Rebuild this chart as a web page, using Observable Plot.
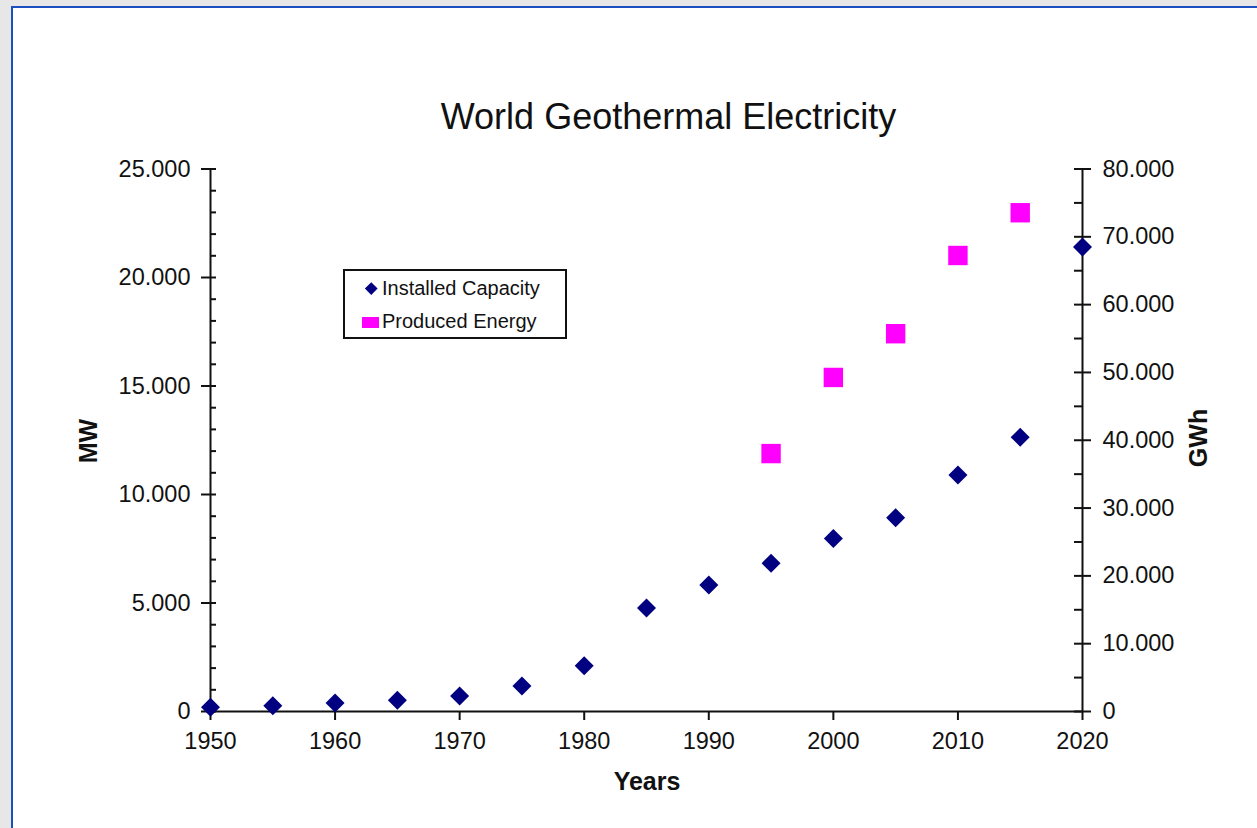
<!DOCTYPE html>
<html><head><meta charset="utf-8">
<script src="https://cdn.jsdelivr.net/npm/d3@7"></script>
<script src="https://cdn.jsdelivr.net/npm/@observablehq/plot@0.6"></script>
<style>
html,body{margin:0;padding:0;width:1257px;height:828px;overflow:hidden;background:#e7e7e7;font-family:"Liberation Sans",Arial,sans-serif;color:#111;}
#panel{position:absolute;left:11px;top:6px;width:1300px;height:900px;background:#fff;border-left:2px solid #1d4fc2;border-top:2px solid #1d4fc2;}
#chart{position:absolute;left:0;top:0;}
.abs{position:absolute;white-space:nowrap;}
#title{left:368.5px;width:600px;top:98.5px;text-align:center;font-size:36px;line-height:36px;}
#xlab{left:547px;width:200px;top:768.8px;text-align:center;font-size:25px;line-height:25px;font-weight:bold;}
.ylab{font-size:25px;line-height:25px;font-weight:bold;transform:translate(-50%,-50%) rotate(-90deg);}
#legend{left:343px;top:269px;width:224px;height:70px;box-sizing:border-box;border:2px solid #111;background:#fff;}
.legtxt{font-size:20px;line-height:20px;}
</style>
</head><body>
<div id="panel"></div>
<div id="chart"></div>
<div class="abs" id="title">World Geothermal Electricity</div>
<div class="abs" id="xlab">Years</div>
<div class="abs ylab" style="left:88px;top:441px;">MW</div>
<div class="abs ylab" style="left:1198px;top:438px;">GWh</div>
<div class="abs" id="legend"></div>
<div class="abs" style="left:366.5px;top:283.5px;width:8.5px;height:8.5px;background:#000080;transform:rotate(45deg);"></div>
<div class="abs legtxt" style="left:382px;top:278.1px;">Installed Capacity</div>
<div class="abs" style="left:362px;top:317px;width:17px;height:11px;background:#ff00ff;"></div>
<div class="abs legtxt" style="left:382px;top:311.1px;">Produced Energy</div>
<script>
// Data
const capYears = [1950,1955,1960,1965,1970,1975,1980,1985,1990,1995,2000,2005,2010,2015,2020];
const capacityMW = [200,270,386,520,720,1180,2110,4764,5834,6833,7972,8933,10897,12635,21400];
const energyYears = [1995,2000,2005,2010,2015];
const energyGWh = [38035,49261,55709,67246,73549];

// Axis ticks
const xTicks = [1950,1960,1970,1980,1990,2000,2010,2020];
const leftTicks = [0,5000,10000,15000,20000,25000];
const leftMinor = [1000,2000,3000,4000,6000,7000,8000,9000,11000,12000,13000,14000,16000,17000,18000,19000,21000,22000,23000,24000];
const rightTicks = [0,10000,20000,30000,40000,50000,60000,70000,80000];
const rightMinor = [5000,15000,25000,35000,45000,55000,65000,75000];

const k = 25000/80000; // GWh -> MW-axis scale
const fmt = d3.formatLocale({decimal:",", thousands:".", grouping:[3], currency:["",""]}).format(",.0f");

const capData = capYears.map((y,i)=>({year:y, mw:capacityMW[i]}));
const energyData = energyYears.map((y,i)=>({year:y, gwh:energyGWh[i]}));

const diamond = {draw(ctx, size){const r=Math.sqrt(size/Math.PI); ctx.moveTo(0,-r); ctx.lineTo(r,0); ctx.lineTo(0,r); ctx.lineTo(-r,0); ctx.closePath();}};
const square = {draw(ctx, size){const r=Math.sqrt(size/Math.PI); ctx.rect(-r,-r,2*r,2*r);}};

const chart = Plot.plot({
  width:1257, height:828,
  marginLeft:210, marginRight:175, marginTop:168.5, marginBottom:117,
  style:{background:"transparent", fontFamily:"Liberation Sans, Arial, sans-serif", fontSize:"23.5px", color:"#111", overflow:"visible"},
  x:{domain:[1950,2020], label:null},
  y:{domain:[0,25000], label:null},
  marks:[
    Plot.axisX(xTicks, {tickSize:0, tickPadding:21, tickFormat:d=>String(d), label:null}),
    Plot.axisY(leftTicks, {anchor:"left", tickSize:0, tickPadding:20, tickFormat:fmt, label:null}),
    Plot.axisY(rightTicks.map(v=>v*k), {anchor:"right", tickSize:0, tickPadding:20, tickFormat:d=>fmt(d/k), label:null}),
    Plot.ruleX([1950], {stroke:"#111", strokeWidth:2}),
    Plot.ruleX([2020], {stroke:"#111", strokeWidth:2}),
    Plot.ruleY([0], {stroke:"#111", strokeWidth:2}),
    Plot.ruleY(leftTicks, {y:d=>d, x1:()=>1950, x2:()=>1950, insetLeft:-9, insetRight:-6, stroke:"#111", strokeWidth:2}),
    Plot.ruleY(leftMinor, {y:d=>d, x1:()=>1950, x2:()=>1950, insetLeft:0, insetRight:-6, stroke:"#111", strokeWidth:2}),
    Plot.ruleY(rightTicks, {y:d=>d*k, x1:()=>2020, x2:()=>2020, insetLeft:-8, insetRight:-9, stroke:"#111", strokeWidth:2}),
    Plot.ruleY(rightMinor, {y:d=>d*k, x1:()=>2020, x2:()=>2020, insetLeft:-8, insetRight:0, stroke:"#111", strokeWidth:2}),
    Plot.ruleX(xTicks, {x:d=>d, y1:()=>0, y2:()=>0, insetTop:0, insetBottom:-9, stroke:"#111", strokeWidth:2}),
    Plot.dot(energyData, {x:"year", y:d=>d.gwh*k, symbol:square, r:9.7, fill:"#ff00ff", stroke:null}),
    Plot.dot(capData, {x:"year", y:"mw", symbol:diamond, r:9.5, fill:"#000080", stroke:null})
  ]
});
document.getElementById("chart").appendChild(chart);
</script>
</body></html>
